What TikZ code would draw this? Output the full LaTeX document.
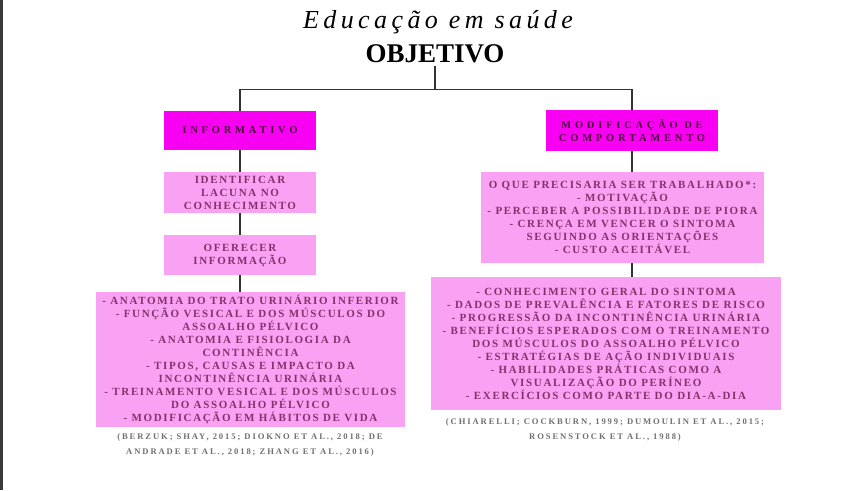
\documentclass[tikz,border=0pt]{standalone}
\usepackage{fontspec}
\setmainfont{Liberation Serif}
\newfontfamily\boxfont[LetterSpace=15]{Liberation Serif}
\newfontfamily\headfont[LetterSpace=36]{Liberation Serif}
\newfontfamily\citefont[LetterSpace=22]{Liberation Serif}
\newfontfamily\titlefont[LetterSpace=17]{Liberation Serif}
\usetikzlibrary{backgrounds}
\definecolor{mag}{HTML}{F800F2}
\definecolor{lpink}{HTML}{F9A2F3}
\definecolor{hdtext}{HTML}{4A0A3A}
\definecolor{bdtext}{HTML}{86306C}
\definecolor{citec}{HTML}{707070}
\definecolor{linec}{HTML}{333333}
\definecolor{edgec}{HTML}{3A3A3A}
\tikzset{
  headbox/.style={fill=mag, inner sep=0pt, align=center, text=hdtext,
    font=\headfont\fontsize{10.5}{13}\selectfont\bfseries},
  bodybox/.style={fill=lpink, inner sep=0pt, align=center, text=bdtext,
    font=\boxfont\fontsize{11}{13}\selectfont\bfseries},
  citetext/.style={align=center, text=citec, inner sep=0pt,
    font=\citefont\fontsize{8.6}{15}\selectfont\bfseries},
  conn/.style={draw=linec, line width=1.6pt},
}
\begin{document}
\begin{tikzpicture}[x=1pt,y=-1pt]
\useasboundingbox (0,0) rectangle (850,490);

\node[anchor=base, inner sep=0pt, font=\titlefont\fontsize{26}{30}\selectfont\itshape] (title) at (438,28) {Educação em saúde};
\node[anchor=base, inner sep=3pt, font=\fontsize{27}{30}\selectfont\bfseries] (objetivo) at (435,62) {OBJETIVO};
\coordinate (jn) at (434,89.5);

% left column
\node[headbox, minimum width=152pt, minimum height=39pt] (info) at (240,130.5) {INFORMATIVO};
\node[bodybox, minimum width=152pt, minimum height=41pt] (ident) at (240,192.5) {IDENTIFICAR\\LACUNA NO\\CONHECIMENTO};
\node[bodybox, minimum width=152pt, minimum height=40pt] (ofer) at (240,255) {OFERECER\\INFORMAÇÃO};
\node[bodybox, minimum width=309pt, minimum height=135pt] (lbig) at (250.5,359.5) {- ANATOMIA DO TRATO URINÁRIO INFERIOR\\- FUNÇÃO VESICAL E DOS MÚSCULOS DO\\ASSOALHO PÉLVICO\\- ANATOMIA E FISIOLOGIA DA\\CONTINÊNCIA\\- TIPOS, CAUSAS E IMPACTO DA\\INCONTINÊNCIA URINÁRIA\\- TREINAMENTO VESICAL E DOS MÚSCULOS\\DO ASSOALHO PÉLVICO\\- MODIFICAÇÃO EM HÁBITOS DE VIDA};
\node[citetext] (lcite) at (250,445) {(BERZUK; SHAY, 2015; DIOKNO ET AL., 2018; DE\\ANDRADE ET AL., 2018; ZHANG ET AL., 2016)};

% right column
\node[headbox, minimum width=172pt, minimum height=41pt] (mod) at (632,130.5) {MODIFICAÇÃO DE\\COMPORTAMENTO};
\node[bodybox, minimum width=283pt, minimum height=91pt] (oque) at (622.5,217.5) {O QUE PRECISARIA SER TRABALHADO*:\\- MOTIVAÇÃO\\- PERCEBER A POSSIBILIDADE DE PIORA\\- CRENÇA EM VENCER O SINTOMA\\SEGUINDO AS ORIENTAÇÕES\\- CUSTO ACEITÁVEL};
\node[bodybox, minimum width=350pt, minimum height=133pt] (rbig) at (606,343.5) {- CONHECIMENTO GERAL DO SINTOMA\\- DADOS DE PREVALÊNCIA E FATORES DE RISCO\\- PROGRESSÃO DA INCONTINÊNCIA URINÁRIA\\- BENEFÍCIOS ESPERADOS COM O TREINAMENTO\\DOS MÚSCULOS DO ASSOALHO PÉLVICO\\- ESTRATÉGIAS DE AÇÃO INDIVIDUAIS\\- HABILIDADES PRÁTICAS COMO A\\VISUALIZAÇÃO DO PERÍNEO\\- EXERCÍCIOS COMO PARTE DO DIA-A-DIA};
\node[citetext] (rcite) at (605,429.5) {(CHIARELLI; COCKBURN, 1999; DUMOULIN ET AL., 2015;\\ROSENSTOCK ET AL., 1988)};

\begin{pgfonlayer}{background}
\fill[white] (0,0) rectangle (850,490);
\fill[edgec] (0,0) rectangle (3,490);
\draw[conn] (objetivo.south) -- (objetivo.south |- jn);
\draw[conn] (info.north) -- (info.north |- jn) -- (mod.north |- jn) -- (mod.north);
\draw[conn] (info.south) -- (ident.north);
\draw[conn] (ident.south) -- (ofer.north);
\draw[conn] (ofer.south) -- (ofer.south |- lbig.north);
\draw[conn] (mod.south) -- (mod.south |- oque.north);
\draw[conn] (mod.south |- oque.south) -- (mod.south |- rbig.north);
\end{pgfonlayer}
\end{tikzpicture}
\end{document}
